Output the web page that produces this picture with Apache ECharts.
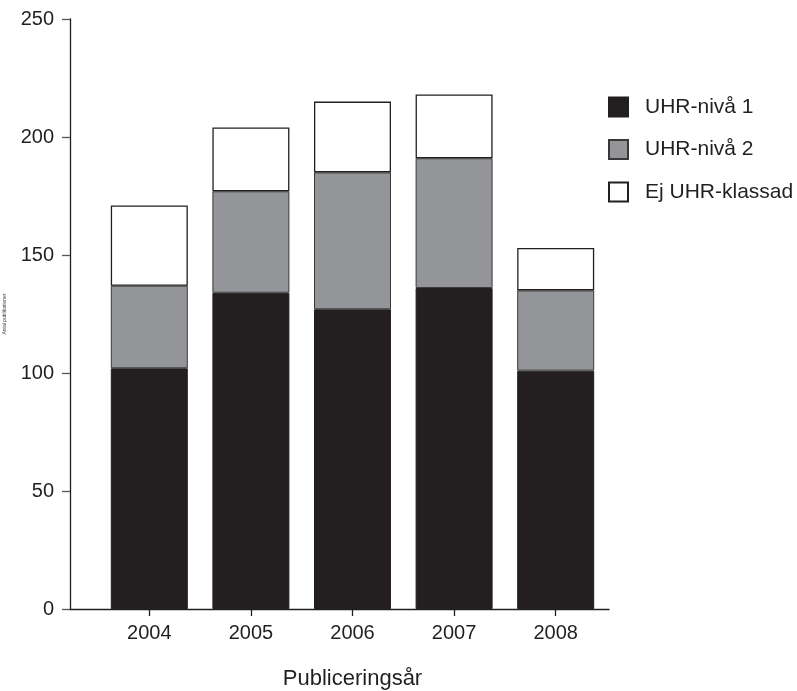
<!DOCTYPE html>
<html>
<head>
<meta charset="utf-8">
<script src="https://cdn.jsdelivr.net/npm/echarts@6/dist/echarts.min.js"></script>
<style>
html,body{margin:0;padding:0;background:#fff;}
#chart{width:797px;height:691px;}
</style>
</head>
<body>
<div id="chart"></div>
<script>
const years = ['2004', '2005', '2006', '2007', '2008'];
const uhrNiva1 = [102, 134, 127, 136, 101];
const uhrNiva2 = [35, 43, 58, 55, 34];
const ejUhr = [34, 27, 30, 27, 18];
const yTicks = { min: 0, max: 250, interval: 50 };
const seriesNames = ['UHR-nivå 1', 'UHR-nivå 2', 'Ej UHR-klassad'];

const FONT = 'Liberation Sans';
const INK = '#231f20';
const chart = echarts.init(document.getElementById('chart'), null, { renderer: 'canvas' });

const gridTop = 19, gridBottom = 82;

chart.setOption({
  animation: false,
  backgroundColor: '#ffffff',
  textStyle: { fontFamily: FONT, color: INK },
  grid: [
    { left: 70, right: 188, top: gridTop, bottom: gridBottom, containLabel: false, outerBoundsMode: 'none' },
    { left: 98.5, right: 190.5, top: gridTop, bottom: gridBottom, containLabel: false, outerBoundsMode: 'none' }
  ],
  legend: {
    orient: 'vertical',
    left: 603,
    top: 91.5,
    icon: 'rect',
    itemWidth: 19,
    itemHeight: 19,
    itemGap: 21.5,
    data: seriesNames,
    textStyle: { fontFamily: FONT, fontSize: 21, color: INK, padding: [0, 0, 0, 12] }
  },
  xAxis: [
    {
      gridIndex: 0, type: 'category', data: years,
      axisLine: { show: true, lineStyle: { color: INK, width: 1.3 } },
      axisTick: { show: false }, axisLabel: { show: false }, splitLine: { show: false }
    },
    {
      gridIndex: 1, type: 'category', data: years,
      name: 'Publiceringsår', nameLocation: 'middle', nameGap: 59,
      nameTextStyle: { fontFamily: FONT, fontSize: 22, color: INK },
      axisLine: { show: false },
      axisTick: { show: true, alignWithLabel: true, length: 7, lineStyle: { color: INK, width: 1.3 } },
      axisLabel: { fontFamily: FONT, fontSize: 20, color: INK, margin: 14 },
      splitLine: { show: false }
    }
  ],
  yAxis: [
    {
      gridIndex: 0, type: 'value', min: yTicks.min, max: yTicks.max, interval: yTicks.interval,
      name: 'Antal publikationer', nameLocation: 'middle', nameGap: 63, nameRotate: 90,
      nameTextStyle: { fontFamily: FONT, fontSize: 5, color: '#444' },
      axisLine: { show: true, lineStyle: { color: INK, width: 1.3 } },
      axisTick: { show: true, inside: false, length: 8, lineStyle: { color: '#555', width: 1.3 } },
      axisLabel: { fontFamily: FONT, fontSize: 20, color: INK, margin: 16 },
      splitLine: { show: false }
    },
    {
      gridIndex: 1, type: 'value', min: yTicks.min, max: yTicks.max, interval: yTicks.interval,
      show: false, splitLine: { show: false }
    }
  ],
  series: [
    {
      name: seriesNames[0], type: 'bar', stack: 'total', xAxisIndex: 1, yAxisIndex: 1,
      barWidth: 77, data: uhrNiva1,
      itemStyle: { color: INK, borderColor: INK, borderWidth: 1 }
    },
    {
      name: seriesNames[1], type: 'bar', stack: 'total', xAxisIndex: 1, yAxisIndex: 1,
      barWidth: 77, data: uhrNiva2,
      itemStyle: { color: '#939598', borderColor: '#3a3738', borderWidth: 1 }
    },
    {
      name: seriesNames[2], type: 'bar', stack: 'total', xAxisIndex: 1, yAxisIndex: 1,
      barWidth: 77, data: ejUhr,
      itemStyle: { color: '#ffffff', borderColor: INK, borderWidth: 1.3 }
    }
  ]
});
</script>
</body>
</html>
